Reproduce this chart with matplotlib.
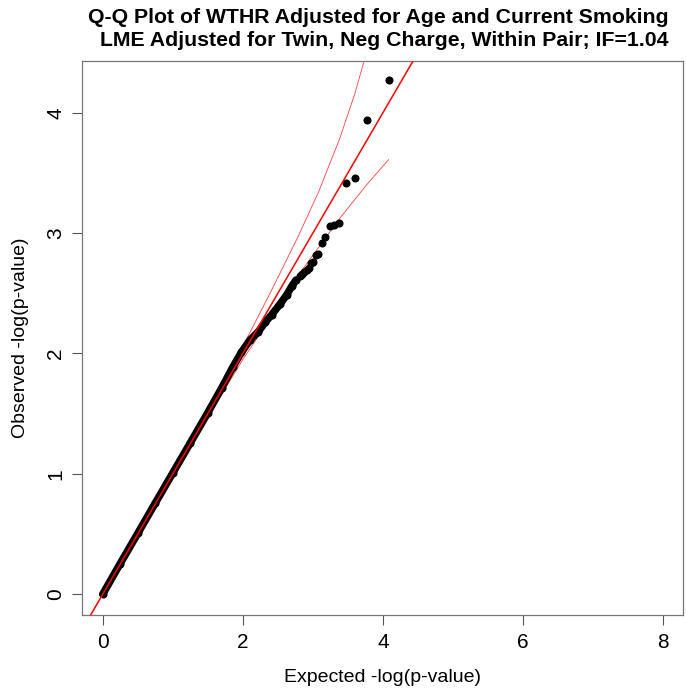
#!/usr/bin/env python3
"""
Q-Q plot of WTHR association p-values (LME, neg charge, within pair).
"""

import matplotlib
matplotlib.use("Agg")
import matplotlib.pyplot as plt

plt.rcParams['font.family'] = ['Liberation Sans', 'DejaVu Sans']

TITLE_1 = "Q-Q Plot of WTHR Adjusted for Age and Current Smoking"
TITLE_2 = "LME Adjusted for Twin, Neg Charge, Within Pair; IF=1.04"

# dense part of the point cloud (expected, observed)
trace_exp = [0.0, 0.25, 0.5, 0.75, 1.0, 1.25, 1.5, 1.7, 1.86, 1.98,
             2.10, 2.22, 2.32, 2.41, 2.53, 2.63, 2.70, 2.76]
trace_obs = [0.0, 0.255, 0.505, 0.757, 1.007, 1.257, 1.508, 1.715, 1.89, 2.01,
             2.11, 2.18, 2.26, 2.32, 2.41, 2.49, 2.56, 2.61]

# top hits, one point each
tail_exp = [4.08, 3.78, 3.60, 3.48, 3.38, 3.30, 3.24, 3.18, 3.13, 3.08,
            3.04, 3.00, 2.97, 2.94, 2.91, 2.88, 2.85, 2.83, 2.81]
tail_obs = [4.27, 3.94, 3.46, 3.42, 3.08, 3.07, 3.06, 2.97, 2.92, 2.83,
            2.82, 2.76, 2.75, 2.71, 2.69, 2.68, 2.66, 2.65, 2.64]

# 90% confidence band
band_exp = [0.0, 0.5, 1.0, 1.5, 2.0, 2.38, 2.78, 3.08, 3.38, 3.60, 3.78, 4.08]
band_upper = [0.0, 0.51, 1.02, 1.54, 2.06, 2.49, 2.96, 3.34, 3.78, 4.16, 4.53, 5.37]
band_lower = [0.0, 0.495, 0.985, 1.47, 1.95, 2.28, 2.64, 2.88, 3.12, 3.28, 3.41, 3.61]


fig = plt.figure(figsize=(6.86, 6.98), dpi=100)
ax = fig.add_axes([0.1191, 0.1185, 0.8761, 0.7941])

ax.plot(band_exp, band_upper, color='red', lw=0.6, alpha=0.75)
ax.plot(band_exp, band_lower, color='red', lw=0.6, alpha=0.75)

# the dense cloud is so packed it reads as a thick line
ax.plot(trace_exp, trace_obs, color='black', lw=5.4, solid_capstyle='round',
        solid_joinstyle='round')
ax.plot(trace_exp, trace_obs, 'o', color='black', ms=4.8)
ax.plot(tail_exp, tail_obs, 'o', color='black', ms=4.8)

ax.axline((0, 0), slope=1, color='red', lw=1.1, zorder=5)

ax.set_xlim(-0.30, 8.28)
ax.set_ylim(-0.175, 4.43)
ax.set_xticks([0, 2, 4, 6, 8])
ax.set_yticks([0, 1, 2, 3, 4])
ax.tick_params(labelsize=15, length=7, width=0.8, color='#555555')
ax.tick_params(axis='x', pad=6)
ax.tick_params(axis='y', pad=5)
for lab in ax.get_yticklabels():
    lab.set_rotation(90)
    lab.set_va('center')
for sp in ax.spines.values():
    sp.set_color('#777777')
    sp.set_linewidth(0.9)

ax.set_xlabel('Expected -log(p-value)', fontsize=14, labelpad=12)
ax.set_ylabel('Observed -log(p-value)', fontsize=14, labelpad=12)

fig.text(0.974, 0.975, TITLE_1, ha='right', va='center', fontsize=15.3,
         fontweight='bold')
fig.text(0.974, 0.942, TITLE_2, ha='right', va='center', fontsize=15.3,
         fontweight='bold')

fig.savefig('out.png', dpi=100)
